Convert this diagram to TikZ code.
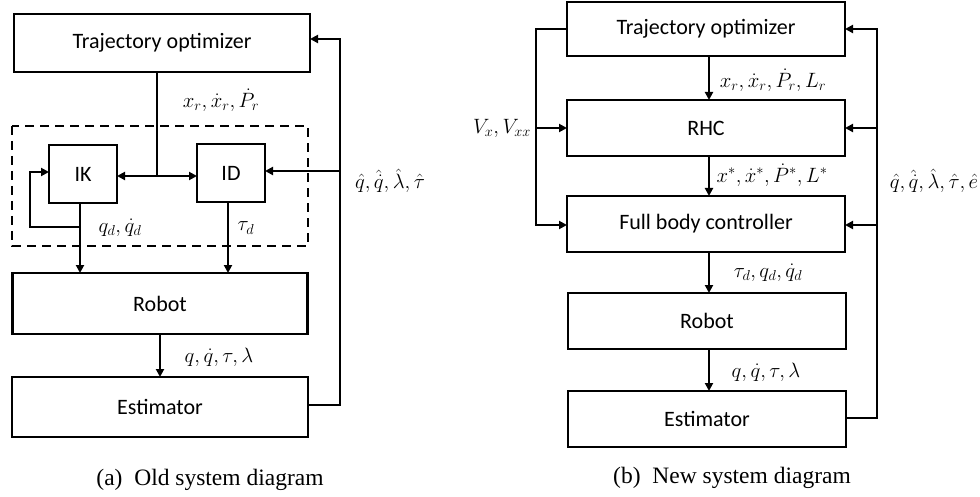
\documentclass[tikz,border=0pt]{standalone}
\usepackage{fontspec}
\setmainfont{Liberation Serif}
\newfontfamily\boxfont{Carlito}
\usetikzlibrary{arrows.meta}
\begin{document}
\begin{tikzpicture}[x=1pt,y=-1pt,
  blk/.style={draw,line width=2.3pt,inner sep=0pt,outer sep=0pt,minimum height=56pt,font=\boxfont\fontsize{22}{25}\selectfont},
  wbox/.style={blk,minimum width=278pt},
  sbox/.style={blk,minimum width=68pt,minimum height=58pt},
  conn/.style={line width=2pt},
  arr/.style={conn,-{Triangle[length=8pt,width=8pt]}},
  lbl/.style={inner sep=0pt,font=\fontsize{22}{25}\selectfont},
  captxt/.style={inner sep=0pt,font=\fontsize{23.5}{26}\selectfont}]
\useasboundingbox (0,0) rectangle (980,497);
% ---------- (a) ----------
\node[blk,minimum width=296pt,minimum height=58pt] (ta) at (162,43) {Trajectory optimizer};
\node[sbox] (ik) at (83,174) {IK};
\node[sbox] (id) at (231,173) {ID};
\node[blk,minimum width=295pt,minimum height=61pt] (ra) at (160,303.5) {Robot};
\node[blk,minimum width=296pt,minimum height=60pt] (ea) at (160,407) {Estimator};
\draw[line width=2.2pt,dash pattern=on 9pt off 6pt] (12,126) rectangle (308,246);
\coordinate (ja) at (157,176);
\draw[conn] (ta.south -| ja) -- (ja);
\draw[arr] (ja) -- (ik.east |- ja);
\draw[arr] (ja) -- (id.west |- ja);
\coordinate (ikb) at (80,227);
\draw[arr] (ik.south -| ikb) -- (ra.north -| ikb);
\draw[arr] (ikb) -- (30,227) -- (30,172) -- (ik.west |- 0,172);
\draw[arr] (id.south -| 228,0) -- (ra.north -| 228,0);
\draw[arr] (ra.south -| 160,0) -- (ea.north -| 160,0);
\coordinate (fa) at (340,405);
\draw[arr] (ea.east |- fa) -- (fa) -- (340,39) -- (ta.east |- 0,39);
\draw[arr] (340,171) -- (id.east |- 0,171);
\node[lbl] (l1) at (221,100) {$x_r,\dot{x}_r,\dot{P}_r$};
\node[lbl] (l2) at (120,228) {$q_d,\dot{q}_d$};
\node[lbl] (l3) at (246,228) {$\tau_d$};
\node[lbl] (l4) at (219,357) {$q,\dot{q},\tau,\lambda$};
\node[lbl] (l5) at (390,181) {$\hat{q},\hat{\dot{q}},\hat{\lambda},\hat{\tau}$};
\node[captxt] (ca) at (210,480) {(a)\hspace{0.5em}Old system diagram};
% ---------- (b) ----------
\node[wbox,minimum height=54pt] (tb) at (706,29) {Trajectory optimizer};
\node[wbox] (rhc) at (706,128) {RHC};
\node[wbox] (fb) at (706,224) {Full body controller};
\node[wbox] (rb) at (707,321) {Robot};
\node[wbox] (eb) at (707,419) {Estimator};
\draw[arr] (tb.south -| 709,0) -- (rhc.north -| 709,0);
\draw[arr] (rhc.south -| 709,0) -- (fb.north -| 709,0);
\draw[arr] (fb.south -| 709,0) -- (rb.north -| 709,0);
\draw[arr] (rb.south -| 709,0) -- (eb.north -| 709,0);
\coordinate (vl) at (536,29);
\draw[arr] (tb.west |- vl) -- (vl) -- (536,225) -- (fb.west |- 0,225);
\draw[arr] (536,128) -- (rhc.west |- 0,128);
\coordinate (fbk) at (877,418);
\draw[arr] (eb.east |- fbk) -- (fbk) -- (877,29) -- (tb.east |- 0,29);
\draw[arr] (877,128) -- (rhc.east |- 0,128);
\draw[arr] (877,225) -- (fb.east |- 0,225);
\node[lbl] (m1) at (502,128) {$V_x,V_{xx}$};
\node[lbl] (m2) at (773,80) {$x_r,\dot{x}_r,\dot{P}_r,L_r$};
\node[lbl] (m3) at (772,175) {$x^*,\dot{x}^*,\dot{P}^*,L^*$};
\node[lbl] (m4) at (768,273) {$\tau_d,q_d,\dot{q}_d$};
\node[lbl] (m5) at (766,372) {$q,\dot{q},\tau,\lambda$};
\node[lbl] (m6) at (934,181) {$\hat{q},\hat{\dot{q}},\hat{\lambda},\hat{\tau},\hat{e}$};
\node[captxt] (cb) at (732,478) {(b)\hspace{0.5em}New system diagram};
\end{tikzpicture}
\end{document}
